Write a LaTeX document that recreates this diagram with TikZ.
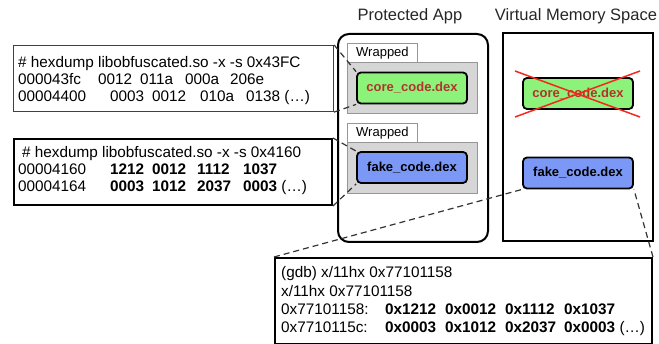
\documentclass[tikz,border=0pt]{standalone}
\usepackage{fontspec}
\setmainfont{Liberation Sans}

\definecolor{dexgreen}{RGB}{140,242,122}
\definecolor{dexblue}{RGB}{124,152,246}
\definecolor{coretext}{RGB}{178,52,44}
\definecolor{wrapgray}{RGB}{214,214,214}
\definecolor{wrapedge}{RGB}{150,150,150}
\definecolor{crossred}{RGB}{245,40,30}

\newcommand{\dumpfont}{\fontsize{15.3pt}{17pt}\selectfont}

\begin{document}
\begin{tikzpicture}[x=1pt,y=-1pt,
  dumptxt/.style={font=\dumpfont, inner sep=0pt, anchor=base west},
  heading/.style={font=\fontsize{16.5pt}{19pt}\selectfont, inner sep=0pt, text=black!85},
  frame/.style={draw, anchor=north west, inner sep=0pt, fill=white},
  dumpthin/.style={frame, draw=black!75, line width=1.1pt},
  dumpthick/.style={frame, line width=2pt},
  wrapper/.style={draw=wrapedge, fill=wrapgray, line width=0.9pt, anchor=north west, inner sep=0pt,
    minimum width=130pt, minimum height=51pt},
  tab/.style={draw=wrapedge, fill=white, line width=0.9pt, anchor=north west, inner sep=0pt,
    minimum width=70pt, minimum height=19pt, font=\fontsize{13pt}{15pt}\selectfont},
  dex/.style={draw, line width=1.8pt, rounded corners=4pt, inner sep=0pt,
    minimum width=110pt, minimum height=31pt, font=\fontsize{13pt}{15pt}\selectfont\bfseries},
  link/.style={dashed, dash pattern=on 6pt off 4pt, line width=1.2pt, black!80},
]
\useasboundingbox (0,0) rectangle (659,344);

% headings
\node[heading] (tApp) at (410,16) {Protected App};
\node[heading] (tVms) at (576,16) {Virtual Memory Space};

% outer containers
\node[frame, line width=2pt, rounded corners=11pt, minimum width=150pt, minimum height=208pt] (app) at (337,33) {};
\node[frame, line width=2pt, minimum width=150pt, minimum height=208pt] (vms) at (502,32) {};

% wrapped dex files inside the app
\node[wrapper] (w1) at (347,62) {};
\node[tab] (tab1) at (347,43) {Wrapped};
\node[dex, fill=dexgreen, text=coretext] (core) at (412,88) {core\_code.dex};

\node[wrapper] (w2) at (347,142) {};
\node[tab] (tab2) at (347,123) {Wrapped};
\node[dex, fill=dexblue] (fake) at (412,167.5) {fake\_code.dex};

% dex files loaded in memory
\node[dex, fill=dexgreen, text=coretext] (vcore) at (578,93.5) {core\_code.dex};
\node[dex, fill=dexblue] (vfake) at (578,173) {fake\_code.dex};
\coordinate (xa) at (515,71);
\coordinate (xb) at (640,117);
\coordinate (xc) at (515,117);
\coordinate (xd) at (640,71);
\draw[crossred, line width=1.5pt] (xa) -- (xb) (xc) -- (xd);

% hexdump of the first region
\node[dumpthin, minimum width=320pt, minimum height=66pt] (d1) at (13,45) {};
\node[dumptxt] (d1a) at (18,68) {\# hexdump libobfuscated.so -x -s 0x43FC};
\node[dumptxt] (d1b) at (18,85) {000043fc};
\node[dumptxt] at (98,85) {0012};
\node[dumptxt] at (140,85) {011a};
\node[dumptxt] at (185,85) {000a};
\node[dumptxt] at (230,85) {206e};
\node[dumptxt] (d1c) at (18,102) {00004400};
\node[dumptxt] at (110,102) {0003};
\node[dumptxt] at (152,102) {0012};
\node[dumptxt] at (200,102) {010a};
\node[dumptxt] at (246,102) {0138 (\ldots)};

% hexdump of the second region
\node[dumpthick, minimum width=318pt, minimum height=66pt] (d2) at (13,138) {};
\node[dumptxt] (d2a) at (22,158) {\# hexdump libobfuscated.so -x -s 0x4160};
\node[dumptxt] (d2b) at (18,175) {00004160};
\node[dumptxt] at (110,175) {\bfseries 1212};
\node[dumptxt] at (152,175) {\bfseries 0012};
\node[dumptxt] at (197,175) {\bfseries 1112};
\node[dumptxt] at (243,175) {\bfseries 1037};
\node[dumptxt] (d2c) at (18,192) {00004164};
\node[dumptxt] at (110,192) {\bfseries 0003};
\node[dumptxt] at (152,192) {\bfseries 1012};
\node[dumptxt] at (197,192) {\bfseries 2037};
\node[dumptxt] at (243,192) {\bfseries 0003 \mdseries(\ldots)};

% gdb memory dump
\node[dumpthick, minimum width=377pt, minimum height=86pt] (gdb) at (274,257) {};
\node[dumptxt] (g1) at (281,278) {(gdb) x/11hx 0x77101158};
\node[dumptxt] (g2) at (281,297) {x/11hx 0x77101158};
\node[dumptxt] (g3) at (281,315) {0x77101158:};
\node[dumptxt] at (385,315) {\bfseries 0x1212};
\node[dumptxt] at (445,315) {\bfseries 0x0012};
\node[dumptxt] at (505,315) {\bfseries 0x1112};
\node[dumptxt] at (564,315) {\bfseries 0x1037};
\node[dumptxt] (g4) at (281,333) {0x7710115c:};
\node[dumptxt] at (385,333) {\bfseries 0x0003};
\node[dumptxt] at (445,333) {\bfseries 0x1012};
\node[dumptxt] at (505,333) {\bfseries 0x2037};
\node[dumptxt] at (564,333) {\bfseries 0x0003 \mdseries(\ldots)};

% zoom-in connectors
\draw[link] (d1.north east) -- (core.north west);
\draw[link] (d1.south east) -- (core.south west);
\draw[link] (d2.north east) -- (fake.north west);
\draw[link] (d2.south east) -- (fake.south west);
\draw[link] (gdb.north west) -- (vfake.south west);
\draw[link] (gdb.north east) -- (vfake.south east);
\end{tikzpicture}
\end{document}
